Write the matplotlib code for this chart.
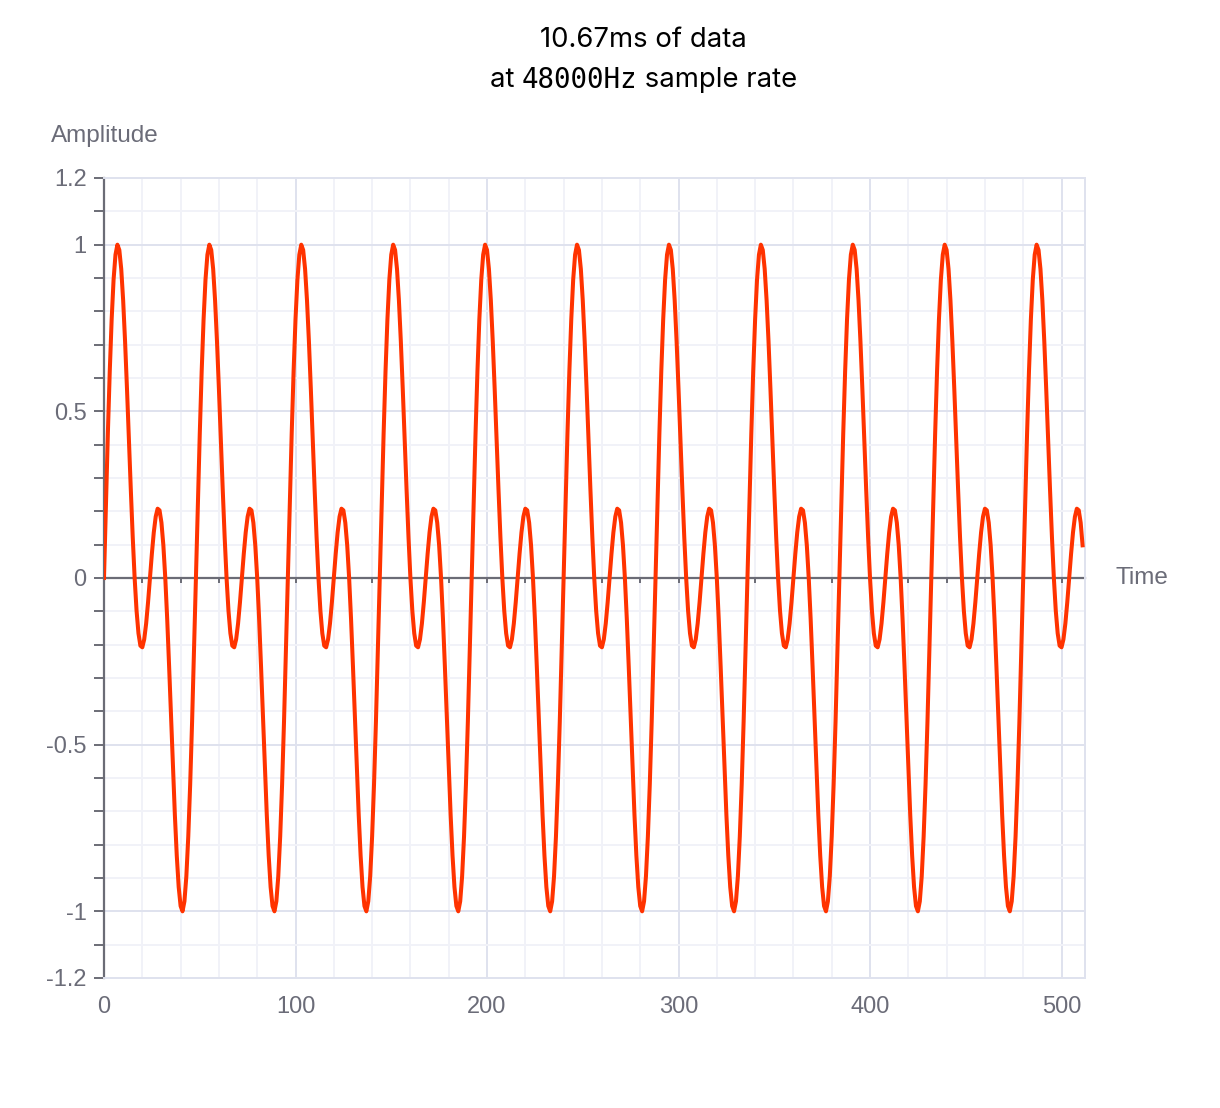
import numpy as np
import matplotlib
matplotlib.use("Agg")
import matplotlib.pyplot as plt
from matplotlib.ticker import MultipleLocator, FixedLocator

# one period (48 samples) of the waveform, repeated over the buffer
period = [0.000, 0.221, 0.431, 0.619, 0.776, 0.895, 0.970, 1.000, 0.984, 0.927,
          0.833, 0.710, 0.568, 0.416, 0.265, 0.123, 0.000, -0.098, -0.166, -0.203,
          -0.208, -0.184, -0.137, -0.073, 0.000, 0.073, 0.137, 0.184, 0.208, 0.203,
          0.166, 0.098, 0.000, -0.123, -0.265, -0.416, -0.568, -0.710, -0.833, -0.927,
          -0.984, -1.000, -0.970, -0.895, -0.776, -0.619, -0.431, -0.221]
n_samples = 512
sample_rate = 48000
duration_ms = 10.67

samples = np.resize(np.array(period), n_samples)
t = np.arange(n_samples)

y_ticks = [-1.2, -1, -0.5, 0, 0.5, 1, 1.2]
y_labels = ["-1.2", "-1", "-0.5", "0", "0.5", "1", "1.2"]
x_ticks = [0, 100, 200, 300, 400, 500]

W, H = 1220, 1108
TXT = "#6b6c78"
SPINE = "#6b6c76"
GRID_MAJ = "#dfe2ee"
GRID_MIN = "#f1f2f8"
LINE = "#ff3300"
SANS = ["Liberation Sans", "DejaVu Sans"]
TITLE_FONT = ["Inter", "DejaVu Sans"]

plt.rcParams["font.family"] = SANS

def px(x, y):
    return x / W, 1 - y / H

fig = plt.figure(figsize=(W / 100, H / 100), dpi=100)
ax = fig.add_axes([104 / W, 1 - 978 / H, (1084.5 - 104) / W, (978 - 178) / H])

ax.plot(t, samples, color=LINE, lw=2.9, solid_joinstyle="round", zorder=3)

ax.set_xlim(0, 512)
ax.set_ylim(-1.2, 1.2)

# y axis
ax.yaxis.set_major_locator(FixedLocator(y_ticks))
ax.set_yticklabels(y_labels)
ax.yaxis.set_minor_locator(MultipleLocator(0.1))
ax.tick_params(axis="y", which="both", direction="out", length=7.5, width=1.4,
               color=SPINE, labelcolor=TXT, labelsize=17, pad=5)

# x axis labels at bottom, no tick marks
ax.xaxis.set_major_locator(FixedLocator(x_ticks))
ax.xaxis.set_minor_locator(MultipleLocator(20))
ax.tick_params(axis="x", which="both", length=0, labelcolor=TXT, labelsize=17, pad=13)

# grid
ax.grid(which="major", color=GRID_MAJ, lw=1.4, zorder=0)
ax.grid(which="minor", color=GRID_MIN, lw=1.4, zorder=0)
ax.set_axisbelow(True)

for side in ["top", "right", "bottom"]:
    ax.spines[side].set_color(GRID_MAJ)
    ax.spines[side].set_linewidth(1.4)
ax.spines["left"].set_color(SPINE)
ax.spines["left"].set_linewidth(1.6)

# zero line with small tick marks (above the grid, below the signal)
sec = ax.secondary_xaxis(0.5)
sec.set_zorder(2)
sec.xaxis.set_major_locator(FixedLocator(x_ticks))
sec.xaxis.set_minor_locator(MultipleLocator(20))
sec.xaxis.set_ticks_position("bottom")
sec.tick_params(axis="x", which="both", direction="out", length=3.8, width=1.4,
                color=SPINE, labelbottom=False, labeltop=False)
for side in sec.spines:
    sec.spines[side].set_visible(False)
sec.spines["bottom"].set_visible(True)
sec.spines["bottom"].set_color(SPINE)
sec.spines["bottom"].set_linewidth(1.6)

# axis names
fig.text(*px(51, 136), "Amplitude", color=TXT, fontsize=17.5, ha="left", va="center")
fig.text(*px(1115, 578), "Time", color=TXT, fontsize=17.5, ha="left", va="center")

# title, two lines, the rate in a monospace face
cx = 643.5
fig.text(*px(cx, 40), "%.2fms of data" % duration_ms, color="black", fontsize=19.8,
         family=TITLE_FONT, ha="center", va="center")

parts = [("at ", TITLE_FONT),
         ("%dHz" % sample_rate, ["DejaVu Sans Mono"]),
         (" sample rate", TITLE_FONT)]
renderer = fig.canvas.get_renderer()
texts = []
for s, fam in parts:
    tx = fig.text(0, 0, s, color="black", fontsize=19.8, family=fam, va="center")
    texts.append(tx)
widths = [tx.get_window_extent(renderer).width for tx in texts]
x0 = cx - sum(widths) / 2
for tx, w in zip(texts, widths):
    tx.set_position(px(x0, 80))
    x0 += w

fig.savefig("out.png", dpi=100)
